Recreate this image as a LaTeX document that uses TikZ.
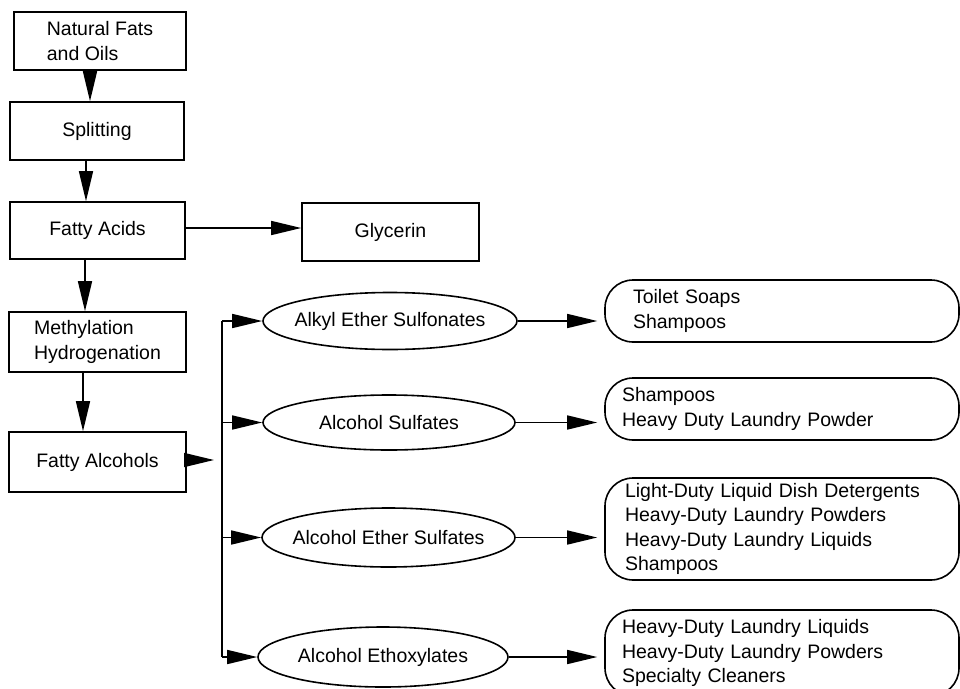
\documentclass[tikz,border=0pt]{standalone}
\usepackage{fontspec}
\setmainfont{Liberation Sans}
\usetikzlibrary{arrows.meta,shapes.geometric}
\begin{document}
\begin{tikzpicture}[x=1pt,y=-1pt,
  every node/.style={font=\fontsize{19.5pt}{24.5pt}\selectfont, inner sep=0pt},
  sqbox/.style={draw, line width=1.6pt, align=left},
  ell/.style={draw, ellipse, line width=1.6pt},
  rbox/.style={draw, line width=1.6pt, rounded corners=28pt, minimum width=354pt, align=left},
  conn/.style={line width=1.6pt},
  arr/.style={line width=1.6pt, -{Triangle[length=30pt,width=14pt]}}]
\clip (0,0) rectangle (960,688);
\fill[white] (0,0) rectangle (960,688);
% left column
\node[sqbox, minimum width=172pt, minimum height=58pt] (nfo) at (100,41) {Natural Fats\\and Oils};
\node[sqbox, minimum width=174pt, minimum height=58pt] (split) at (97,131) {Splitting};
\node[sqbox, minimum width=175pt, minimum height=57pt] (facid) at (97.5,230.5) {Fatty Acids};
\node[sqbox, minimum width=177pt, minimum height=58pt] (glyc) at (390.5,232) {Glycerin};
\node[sqbox, minimum width=177pt, minimum height=60pt] (meth) at (97.5,342) {Methylation\\Hydrogenation};
\node[sqbox, minimum width=177pt, minimum height=60pt] (falc) at (97.5,462) {Fatty Alcohols};
% ellipses
\node[ell, minimum width=254pt, minimum height=57pt, label={center:Alkyl Ether Sulfonates}] (e1) at (390,321) {};
\node[ell, minimum width=252pt, minimum height=55pt, label={center:Alcohol Sulfates}] (e2) at (389,422.5) {};
\node[ell, minimum width=253pt, minimum height=59pt, label={center:Alcohol Ether Sulfates}] (e3) at (388.5,537.5) {};
\node[ell, minimum width=250pt, minimum height=60pt, label={center:Alcohol Ethoxylates}] (e4) at (383,657) {};
% rounded boxes
\node[rbox, minimum height=62pt, text width=298pt] (r1) at (782,311) {Toilet Soaps\\Shampoos};
\node[rbox, minimum height=62pt, text width=320pt] (r2) at (782,409) {Shampoos\\Heavy Duty Laundry Powder};
\node[rbox, minimum height=102pt, text width=314pt] (r3) at (782,529) {Light-Duty Liquid Dish Detergents\\Heavy-Duty Laundry Powders\\Heavy-Duty Laundry Liquids\\Shampoos};
\node[rbox, minimum height=86pt, text width=320pt] (r4) at (782,653) {Heavy-Duty Laundry Liquids\\Heavy-Duty Laundry Powders\\Specialty Cleaners};
% vertical chain
\draw[arr] (nfo.south -| 90,0) -- (split.north -| 90,0);
\draw[arr] (split.south -| 86,0) -- (facid.north -| 86,0);
\draw[arr] (facid.south -| 85,0) -- (meth.north -| 85,0);
\draw[arr] (meth.south -| 83,0) -- (falc.north -| 83,0);
\draw[arr] (facid.east |- 0,228) -- (glyc.west |- 0,228);
% bus
\coordinate (bus) at (222,0);
\coordinate (fin) at (214,460);
\draw[arr] (falc.east |- fin) -- (fin);
\draw[conn] (bus |- e1.west) -- (bus |- e4.west);
\foreach \e in {e1,e2,e3,e4}{
  \draw[arr] (bus |- \e.west) -- (\e.west);
}
\draw[arr, shorten >=7pt] (e1.east) -- (e1.east -| r1.west);
\draw[arr, shorten >=7pt] (e2.east) -- (e2.east -| r2.west);
\draw[arr, shorten >=7pt] (e3.east) -- (e3.east -| r3.west);
\draw[arr, shorten >=7pt] (e4.east) -- (e4.east -| r4.west);
\end{tikzpicture}
\end{document}
